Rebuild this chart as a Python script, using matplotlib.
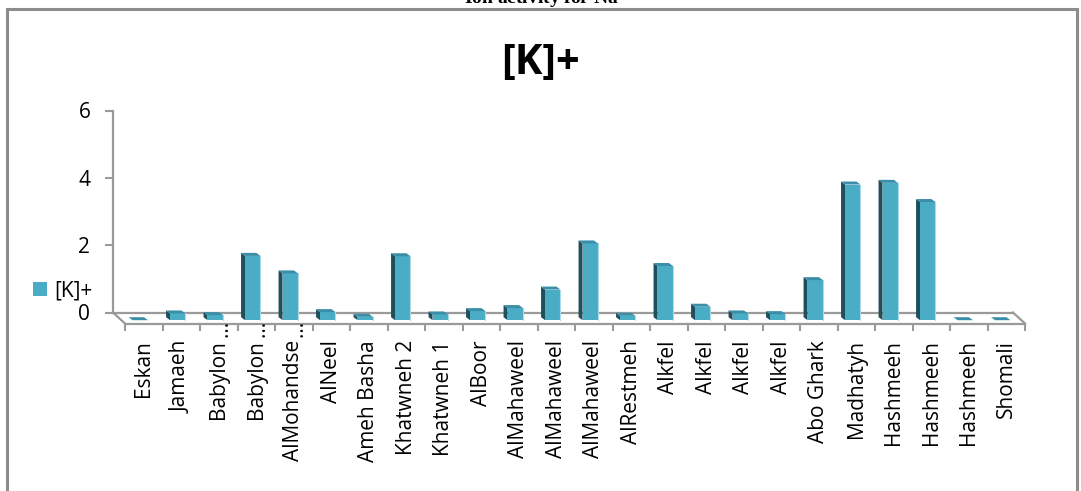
import numpy as np
import matplotlib
matplotlib.use('Agg')
import matplotlib.pyplot as plt
from matplotlib.patches import Rectangle, Polygon, Patch
from matplotlib.lines import Line2D
from matplotlib.transforms import ScaledTranslation

# sample sites and [K]+ activity
sites = ['Eskan', 'Jamaeh', 'Babylon…', 'Babylon…', 'AlMohandse…', 'AlNeel',
         'Ameh Basha', 'Khatwneh 2', 'Khatwneh 1', 'AlBoor', 'AlMahaweel',
         'AlMahaweel', 'AlMahaweel', 'AlRestmeh', 'Alkfel', 'Alkfel', 'Alkfel',
         'Alkfel', 'Abo Ghark', 'Madhatyh', 'Hashmeeh', 'Hashmeeh', 'Hashmeeh',
         'Shomali']
k_plus = [0.0, 0.2, 0.15, 1.91, 1.39, 0.24, 0.1, 1.9, 0.17, 0.27, 0.36, 0.91,
          2.28, 0.13, 1.61, 0.4, 0.2, 0.18, 1.19, 4.03, 4.08, 3.51, 0.0, 0.0]
yticks = [0, 2, 4, 6]
series_name = '[K]+'

plt.rcParams['font.family'] = ['Open Sans', 'DejaVu Sans']

W, H = 1081, 491
fig = plt.figure(figsize=(W / 100, H / 100), dpi=100)

c_front = '#4bacc6'
c_side = '#1f4f5d'
c_top = '#3a8ea7'
c_edge = '#abdbe7'
c_axis = '#9a9a9a'

n = len(sites)
# back wall / floor geometry in pixels
x0_px, x1_px = 113, 1013
ybase_px, ytop_px = 312.5, 110.5
floor_dx, floor_dy = 12, -11      # back -> front edge of floor
bar_dx, bar_dy = 8.5, -7.7        # back wall -> front face of bars
depth_dx, depth_dy = -4, 3        # front face -> back face of bars
bar_w = 0.41

ax = fig.add_axes([x0_px / W, 1 - ybase_px / H, (x1_px - x0_px) / W,
                   (ybase_px - ytop_px) / H])
ax.set_xlim(-0.5, n - 0.5)
ax.set_ylim(0, 6)
ax.patch.set_alpha(0)
for s in ['top', 'right']:
    ax.spines[s].set_visible(False)
for s in ['left', 'bottom']:
    ax.spines[s].set_color(c_axis)
    ax.spines[s].set_linewidth(1.6)
ax.set_xticks([])
ax.set_yticks(yticks)
ax.tick_params(axis='y', length=5.8, width=1.5, color=c_axis, pad=10.5,
               labelsize=15)

px_x = (x1_px - x0_px) / n
px_y = (ybase_px - ytop_px) / 6.0

# floor side edges
fdx, fdy = floor_dx / px_x, floor_dy / px_y
for xe in [-0.5, n - 0.5]:
    ax.add_line(Line2D([xe, xe + fdx], [0, fdy], color=c_axis, lw=1.6,
                       clip_on=False))

# 3d-looking columns
front = ax.transData + ScaledTranslation(bar_dx / 100, bar_dy / 100,
                                         fig.dpi_scale_trans)
ddx, ddy = depth_dx / px_x, depth_dy / px_y
for i, v in enumerate(k_plus):
    xa, xb = i - bar_w / 2, i + bar_w / 2
    side = Polygon([(xa, 0), (xa, v), (xa + ddx, v + ddy), (xa + ddx, ddy)],
                   closed=True, facecolor=c_side, edgecolor='none',
                   transform=front, clip_on=False, zorder=3)
    top = Polygon([(xa, v), (xb, v), (xb + ddx, v + ddy), (xa + ddx, v + ddy)],
                  closed=True, facecolor=c_top, edgecolor='none',
                  transform=front, clip_on=False, zorder=3)
    face = Rectangle((xa, 0), bar_w, v, facecolor=c_front, edgecolor='none',
                     transform=front, clip_on=False, zorder=3)
    ax.add_patch(side)
    ax.add_patch(face)
    ax.add_patch(top)
    if v > 0:
        ax.add_line(Line2D([xb, xb], [0, v], color=c_edge, lw=0.8,
                           transform=front, clip_on=False, zorder=4))

# front edge of the floor carries the category axis
axf = fig.add_axes([(x0_px + floor_dx) / W, 1 - (ybase_px - floor_dy) / H,
                    (x1_px - x0_px) / W, (ybase_px - ytop_px) / H])
axf.set_xlim(-0.5, n - 0.5)
axf.patch.set_alpha(0)
for s in ['top', 'right', 'left']:
    axf.spines[s].set_visible(False)
axf.spines['bottom'].set_color(c_axis)
axf.spines['bottom'].set_linewidth(1.6)
axf.set_yticks([])
axf.set_xticks(np.arange(-0.5, n, 1.0))
axf.tick_params(axis='x', which='major', length=5, width=1.5, color=c_axis,
                labelbottom=False)
axf.set_xticks(np.arange(n), minor=True)
axf.set_xticklabels([s.rstrip('…') for s in sites], minor=True, rotation=90,
                    fontsize=15)
axf.tick_params(axis='x', which='minor', length=0, pad=12)

# overflowing ellipsis of shortened names
up = axf.get_xaxis_transform() + ScaledTranslation(0.03, 3 / 100,
                                                   fig.dpi_scale_trans)
for i, s in enumerate(sites):
    if s.endswith('…'):
        axf.text(i, 0, '…', transform=up, rotation=90, ha='center', va='top',
                 fontsize=15)

# legend
ax.legend(handles=[Patch(facecolor=c_front)], labels=[series_name],
          loc='center left', bbox_to_anchor=(33 / W, 1 - 291 / H),
          bbox_transform=fig.transFigure, frameon=False, fontsize=15,
          handlelength=0.68, handleheight=0.68, handletextpad=0.35,
          borderpad=0, borderaxespad=0)

fig.text(540 / W, 1 - 63 / H, series_name, ha='center', va='center',
         fontsize=30, fontweight='bold')

# caption cut off at the top edge
fig.text(547 / W, 1 - 4 / H, 'Ion activity for Na$^{+}$', ha='center',
         va='baseline', fontsize=14, fontweight='bold',
         family='Liberation Serif')

# outer chart frame
fig.add_artist(Rectangle((6.5 / W, -0.1), (1077 - 6.5) / W, 1.1 - 8.5 / H,
                         transform=fig.transFigure, fill=False,
                         edgecolor='#8c8c8c', lw=2.2))

fig.savefig('out.png', dpi=100)
